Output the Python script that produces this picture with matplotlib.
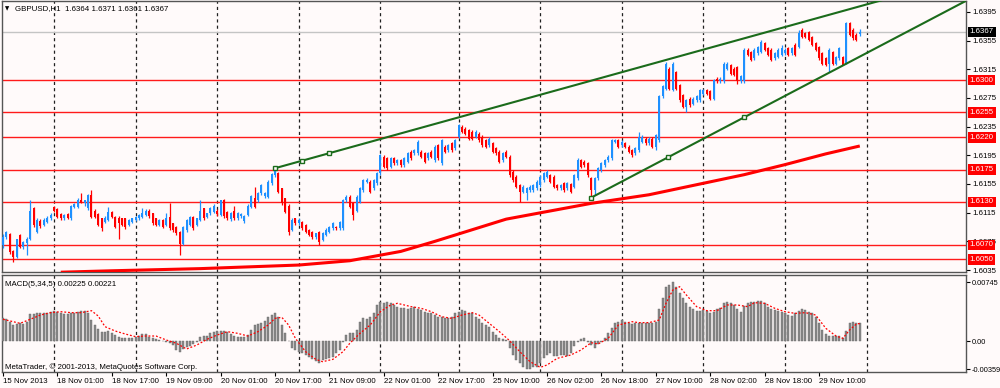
import numpy as np
import matplotlib
matplotlib.use('Agg')
import matplotlib.pyplot as plt
import matplotlib.transforms as mtransforms

plt.rcParams['font.family'] = ['Liberation Sans', 'DejaVu Sans']
plt.rcParams['font.size'] = 5.7

# GBPUSD H1, one bar per hour from 15 Nov 2013 09:00 to 29 Nov 2013 22:00
# prices in units of 0.0001
opens = [
    16070, 16081, 16085, 16062, 16053, 16084, 16067, 16073, 16078, 16122,
    16088, 16104, 16098, 16102, 16107, 16123, 16120, 16113, 16107, 16113,
    16107, 16123, 16123, 16132, 16128, 16121, 16139, 16118, 16113, 16107,
    16102, 16105, 16116, 16109, 16108, 16107, 16107, 16098, 16102, 16105,
    16107, 16109, 16112, 16118, 16114, 16107, 16098, 16105, 16098, 16109,
    16100, 16095, 16088, 16072, 16091, 16098, 16109, 16098, 16105, 16121,
    16109, 16114, 16116, 16118, 16112, 16132, 16116, 16106, 16118, 16107,
    16110, 16104, 16112, 16123, 16136, 16132, 16142, 16138, 16137, 16156,
    16167, 16170, 16149, 16135, 16125, 16091, 16107, 16100, 16102, 16098,
    16091, 16088, 16081, 16088, 16077, 16084, 16088, 16093, 16095, 16093,
    16093, 16132, 16137, 16128, 16118, 16130, 16146, 16158, 16158, 16149,
    16156, 16170, 16193, 16191, 16179, 16191, 16184, 16188, 16181, 16186,
    16200, 16198, 16198, 16200, 16198, 16191, 16200, 16188, 16209, 16184,
    16207, 16202, 16212, 16205, 16221, 16235, 16232, 16230, 16228, 16221,
    16225, 16221, 16216, 16209, 16212, 16205, 16200, 16188, 16200, 16193,
    16172, 16165, 16153, 16144, 16142, 16146, 16146, 16149, 16153, 16160,
    16165, 16167, 16165, 16153, 16149, 16156, 16149, 16155, 16151, 16163,
    16188, 16186, 16184, 16163, 16146, 16163, 16174, 16181, 16188, 16191,
    16214, 16216, 16209, 16212, 16207, 16202, 16198, 16202, 16214, 16218,
    16212, 16218, 16207, 16216, 16277, 16288, 16316, 16286, 16311, 16293,
    16279, 16263, 16274, 16267, 16272, 16272, 16281, 16286, 16284, 16274,
    16302, 16298, 16298, 16316, 16321, 16316, 16318, 16298, 16298, 16342,
    16339, 16330, 16337, 16339, 16351, 16344, 16342, 16330, 16332, 16335,
    16337, 16344, 16337, 16349, 16346, 16370, 16365, 16367, 16360, 16351,
    16346, 16337, 16330, 16323, 16339, 16323, 16330, 16332, 16323, 16379,
    16370, 16363, 16364]
closes = [
    16081, 16088, 16060, 16053, 16078, 16067, 16074, 16078, 16118, 16098,
    16105, 16096, 16105, 16108, 16112, 16117, 16109, 16107, 16112, 16107,
    16125, 16127, 16132, 16129, 16132, 16139, 16109, 16109, 16098, 16093,
    16108, 16116, 16109, 16095, 16100, 16098, 16095, 16105, 16107, 16109,
    16112, 16114, 16118, 16110, 16100, 16098, 16105, 16095, 16107, 16093,
    16091, 16086, 16072, 16095, 16105, 16109, 16093, 16107, 16118, 16107,
    16114, 16121, 16125, 16113, 16132, 16110, 16107, 16114, 16107, 16114,
    16113, 16110, 16125, 16138, 16123, 16142, 16153, 16142, 16158, 16169,
    16178, 16144, 16128, 16116, 16088, 16105, 16100, 16105, 16093, 16088,
    16084, 16081, 16086, 16074, 16086, 16091, 16095, 16100, 16093, 16102,
    16132, 16137, 16123, 16112, 16137, 16149, 16160, 16160, 16144, 16160,
    16170, 16195, 16179, 16177, 16191, 16184, 16188, 16181, 16191, 16198,
    16191, 16202, 16214, 16193, 16186, 16198, 16193, 16207, 16191, 16216,
    16200, 16209, 16202, 16216, 16237, 16228, 16225, 16218, 16218, 16228,
    16216, 16209, 16207, 16218, 16200, 16198, 16186, 16198, 16193, 16167,
    16160, 16151, 16144, 16151, 16149, 16151, 16153, 16158, 16165, 16170,
    16172, 16158, 16151, 16149, 16153, 16146, 16156, 16144, 16167, 16188,
    16179, 16181, 16167, 16146, 16163, 16177, 16184, 16188, 16193, 16216,
    16216, 16207, 16214, 16207, 16200, 16195, 16205, 16221, 16221, 16212,
    16218, 16207, 16223, 16277, 16291, 16323, 16288, 16323, 16288, 16272,
    16263, 16272, 16265, 16274, 16277, 16286, 16286, 16281, 16274, 16300,
    16298, 16302, 16323, 16323, 16309, 16307, 16298, 16305, 16342, 16335,
    16328, 16342, 16346, 16353, 16342, 16335, 16328, 16337, 16342, 16344,
    16342, 16335, 16344, 16335, 16365, 16360, 16360, 16356, 16349, 16342,
    16330, 16323, 16321, 16342, 16323, 16332, 16344, 16321, 16379, 16363,
    16358, 16356, 16367]
highs = [
    16085, 16090, 16087, 16063, 16079, 16085, 16076, 16081, 16133, 16123,
    16107, 16106, 16107, 16110, 16114, 16125, 16122, 16114, 16113, 16115,
    16126, 16129, 16135, 16142, 16133, 16141, 16146, 16120, 16114, 16108,
    16110, 16123, 16117, 16110, 16110, 16108, 16108, 16106, 16108, 16110,
    16113, 16121, 16120, 16120, 16115, 16108, 16106, 16106, 16114, 16128,
    16101, 16096, 16090, 16096, 16106, 16110, 16110, 16108, 16132, 16122,
    16115, 16123, 16127, 16120, 16133, 16134, 16118, 16116, 16125, 16116,
    16115, 16112, 16127, 16140, 16151, 16144, 16155, 16144, 16160, 16171,
    16179, 16172, 16150, 16136, 16127, 16107, 16108, 16107, 16104, 16099,
    16092, 16090, 16087, 16090, 16088, 16093, 16097, 16102, 16097, 16104,
    16134, 16139, 16139, 16130, 16139, 16151, 16162, 16163, 16160, 16162,
    16172, 16197, 16195, 16193, 16193, 16193, 16190, 16190, 16193, 16200,
    16202, 16204, 16216, 16202, 16200, 16200, 16202, 16209, 16211, 16218,
    16209, 16211, 16214, 16218, 16239, 16237, 16234, 16232, 16230, 16230,
    16227, 16223, 16218, 16220, 16214, 16207, 16202, 16200, 16202, 16195,
    16174, 16167, 16155, 16153, 16151, 16153, 16155, 16160, 16167, 16172,
    16174, 16169, 16167, 16155, 16155, 16158, 16158, 16157, 16169, 16191,
    16190, 16188, 16186, 16165, 16165, 16179, 16186, 16190, 16195, 16218,
    16218, 16218, 16216, 16214, 16209, 16204, 16207, 16228, 16223, 16220,
    16220, 16220, 16225, 16279, 16293, 16325, 16318, 16325, 16313, 16295,
    16281, 16274, 16276, 16276, 16279, 16288, 16288, 16288, 16286, 16302,
    16304, 16304, 16325, 16325, 16323, 16318, 16320, 16307, 16344, 16344,
    16341, 16344, 16348, 16356, 16353, 16346, 16344, 16339, 16344, 16349,
    16344, 16346, 16346, 16351, 16370, 16372, 16367, 16369, 16362, 16353,
    16348, 16339, 16332, 16344, 16341, 16334, 16346, 16334, 16381, 16381,
    16372, 16365, 16371]
lows = [
    16066, 16078, 16057, 16046, 16052, 16066, 16065, 16056, 16077, 16095,
    16086, 16094, 16096, 16100, 16105, 16116, 16107, 16105, 16105, 16106,
    16105, 16121, 16121, 16128, 16125, 16119, 16107, 16107, 16096, 16090,
    16100, 16104, 16107, 16093, 16079, 16096, 16092, 16096, 16100, 16103,
    16105, 16108, 16110, 16108, 16098, 16096, 16096, 16093, 16096, 16091,
    16088, 16084, 16056, 16070, 16088, 16096, 16091, 16096, 16104, 16105,
    16107, 16112, 16114, 16111, 16110, 16108, 16105, 16104, 16105, 16105,
    16108, 16100, 16110, 16121, 16121, 16130, 16140, 16136, 16135, 16154,
    16165, 16142, 16126, 16114, 16084, 16089, 16098, 16098, 16091, 16086,
    16082, 16079, 16079, 16070, 16075, 16082, 16086, 16091, 16091, 16091,
    16091, 16130, 16121, 16105, 16116, 16128, 16144, 16156, 16142, 16147,
    16154, 16168, 16177, 16175, 16177, 16182, 16182, 16179, 16179, 16184,
    16189, 16196, 16196, 16191, 16184, 16189, 16191, 16186, 16189, 16182,
    16198, 16200, 16200, 16203, 16219, 16226, 16223, 16216, 16216, 16219,
    16214, 16207, 16205, 16207, 16198, 16196, 16184, 16186, 16191, 16165,
    16158, 16149, 16130, 16142, 16132, 16144, 16144, 16147, 16151, 16158,
    16163, 16156, 16149, 16147, 16147, 16144, 16147, 16142, 16149, 16161,
    16177, 16179, 16165, 16136, 16139, 16161, 16172, 16179, 16186, 16189,
    16212, 16205, 16207, 16205, 16198, 16193, 16196, 16200, 16212, 16210,
    16210, 16205, 16202, 16214, 16275, 16286, 16286, 16284, 16286, 16270,
    16261, 16256, 16263, 16265, 16270, 16270, 16279, 16279, 16272, 16272,
    16296, 16296, 16296, 16314, 16307, 16305, 16295, 16296, 16296, 16333,
    16326, 16328, 16335, 16337, 16340, 16333, 16326, 16328, 16330, 16333,
    16335, 16333, 16335, 16333, 16344, 16358, 16358, 16354, 16347, 16340,
    16328, 16321, 16319, 16311, 16321, 16321, 16328, 16321, 16323, 16361,
    16356, 16354, 16361]

# moving average, read at a few bars
ma_idx = [17, 32, 58, 87, 102, 117, 127, 148, 173, 190, 205, 218, 230, 242, 252]
ma_vals = [1.6032, 1.6034, 1.6037, 1.6042, 1.6048, 1.6061, 1.6075, 1.6106,
           1.6128, 1.6140, 1.6155, 1.6168, 1.6182, 1.6197, 1.6208]

levels = [1.6300, 1.6255, 1.6220, 1.6175, 1.6130, 1.6070, 1.6050]
bid = 1.6367
upper_line = [(80, 1.6177), (96, 1.6198)]
lower_line = [(173, 1.6136), (218, 1.6248)]

# MACD(5,34,5) histogram, units of 0.00001
macd = [
    286, 274, 244, 202, 215, 223, 215, 244, 341, 341,
    358, 349, 358, 358, 366, 383, 370, 349, 341, 337,
    349, 358, 370, 375, 383, 349, 265, 202, 147, 118,
    118, 126, 105, 76, 55, 34, 34, 34, 42, 55,
    63, 88, 84, 55, 34, 21, 13, 0, -8, -29,
    -51, -114, -135, -105, -72, -63, -38, -8, 55, 63,
    67, 105, 118, 126, 131, 126, 118, 88, 63, 55,
    46, 55, 76, 139, 202, 211, 232, 257, 307, 328,
    358, 307, 202, 97, 4, -93, -114, -135, -156, -177,
    -198, -232, -248, -274, -240, -232, -219, -206, -156, -114,
    -8, 76, 97, 105, 139, 244, 286, 274, 307, 358,
    455, 497, 476, 488, 476, 455, 434, 413, 413, 404,
    413, 425, 404, 392, 370, 358, 349, 328, 307, 299,
    295, 286, 307, 349, 370, 392, 383, 358, 349, 307,
    274, 232, 202, 173, 118, 76, 34, 21, 13, -93,
    -177, -240, -282, -324, -352, -359, -333, -324, -282, -219,
    -177, -156, -189, -189, -177, -177, -189, -147, -63, -8,
    21, 34, -8, -51, -93, -38, -8, 34, 97, 160,
    223, 244, 265, 244, 232, 215, 223, 232, 232, 232,
    232, 223, 244, 400, 539, 686, 707, 745, 686, 602,
    539, 476, 425, 400, 379, 379, 392, 383, 349, 370,
    400, 413, 476, 488, 476, 455, 400, 370, 442, 484,
    488, 497, 509, 509, 484, 425, 400, 392, 383, 370,
    358, 328, 316, 349, 383, 400, 392, 370, 358, 307,
    232, 139, 84, 63, 63, 63, 63, 34, 131, 232,
    244, 232, 225]

# signal line, read at a few bars, units of 0.00001
sig_idx = [0, 3, 5, 8, 11, 14, 17, 20, 23, 26, 28, 30, 33, 36, 39, 42, 45, 48,
           51, 54, 57, 60, 63, 66, 69, 72, 75, 78, 80, 82, 84, 86, 89, 92, 94,
           97, 100, 102, 105, 108, 111, 114, 116, 120, 123, 126, 129, 132, 135,
           138, 140, 143, 146, 149, 152, 155, 158, 160, 163, 167, 170, 173, 175,
           178, 181, 185, 187, 190, 193, 195, 197, 199, 201, 204, 207, 210, 213,
           216, 219, 221, 224, 227, 230, 233, 236, 239, 242, 245, 247, 249, 251,
           252]
sig_vals = [274, 244, 223, 274, 328, 358, 370, 358, 358, 383, 316, 181, 126, 88,
            55, 63, 63, 13, -29, -101, -51, 21, 76, 118, 97, 63, 118, 202, 286,
            299, 202, 34, -135, -232, -261, -232, -135, -29, 97, 202, 370, 455,
            476, 434, 413, 370, 307, 286, 328, 358, 328, 223, 118, 4, -135, -261,
            -333, -303, -219, -177, -114, -21, -38, 34, 202, 244, 232, 232, 265,
            476, 644, 686, 581, 434, 383, 383, 455, 455, 434, 484, 476, 413, 370,
            349, 358, 328, 160, 63, 34, 139, 215, 221]

day_starts = [15, 39, 63, 87, 111, 134, 158, 182, 206, 230, 254]
tick_idx = [0, 16, 32, 48, 64, 80, 96, 112, 128, 144, 160, 176, 192, 208, 224, 240]
tick_labels = ['15 Nov 2013', '18 Nov 01:00', '18 Nov 17:00', '19 Nov 09:00',
               '20 Nov 01:00', '20 Nov 17:00', '21 Nov 09:00', '22 Nov 01:00',
               '22 Nov 17:00', '25 Nov 10:00', '26 Nov 02:00', '26 Nov 18:00',
               '27 Nov 10:00', '28 Nov 02:00', '28 Nov 18:00', '29 Nov 10:00']
price_ticks = [1.6035, 1.6075, 1.6115, 1.6155, 1.6195, 1.6235, 1.6275, 1.6315,
               1.6355, 1.6395]
macd_ticks = [0.00745, 0.0, -0.00359]
macd_tick_labels = ['0.00745', '0.00', '-0.00359']

BG = '#fffafa'
GREEN = '#1b6b1b'
W, H = 1000, 388


def box(x0, y0, x1, y1):
    # pixel box (y from top) -> figure fraction rect
    return [x0 / W, 1 - y1 / H, (x1 - x0) / W, (y1 - y0) / H]


fig = plt.figure(figsize=(W / 100, H / 100), dpi=100, facecolor=BG)
ax = fig.add_axes(box(2, 1, 966, 272), facecolor=BG)
axm = fig.add_axes(box(2, 275, 966, 372), facecolor=BG, sharex=ax)

o = np.array(opens) / 1e4
c = np.array(closes) / 1e4
h = np.maximum(np.array(highs) / 1e4, np.maximum(o, c))
l = np.minimum(np.array(lows) / 1e4, np.minimum(o, c))
x = np.arange(len(c))
col = np.where(c >= o, '#1e90ff', '#ff0000')

for lvl in levels:
    ax.axhline(lvl, color='#ff1a1a', lw=1.0, zorder=2)
ax.axhline(bid, color='#c4c4c4', lw=1.0, zorder=2)

ax.vlines(x, l, h, colors=col, lw=0.9, zorder=3)
ax.bar(x, np.maximum(np.abs(c - o), 0.00004), bottom=np.minimum(o, c),
       width=0.62, color=col, lw=0, zorder=4)

ax.plot(ma_idx, ma_vals, color='#ff0000', lw=2.2, solid_capstyle='butt', zorder=5)

x_end = 300
for (x1, y1), (x2, y2) in [upper_line, lower_line]:
    k = (y2 - y1) / (x2 - x1)
    ax.plot([x1, x_end], [y1, y1 + k * (x_end - x1)], color=GREEN, lw=1.5, zorder=6)
    ax.plot([x1, (x1 + x2) / 2, x2], [y1, (y1 + y2) / 2, y2], ls='none', marker='s',
            ms=3.3, mfc=BG, mec=GREEN, mew=1.0, zorder=7)

axm.bar(x, np.array(macd) / 1e5, width=0.62, color='#8a8a8a', edgecolor='#666666',
        lw=0.3, zorder=3)
axm.plot(sig_idx, np.array(sig_vals) / 1e5, color='#ff0000', lw=0.9,
         ls=(0, (1.5, 1.5)), zorder=4)

for a in (ax, axm):
    for d in day_starts:
        a.axvline(d, color='#202020', lw=0.9, ls=(0, (2.5, 2.5)), zorder=1)
    for s in a.spines.values():
        s.set_color('#555555')
        s.set_linewidth(1.0)
    a.tick_params(axis='y', left=False, labelleft=False, right=True, labelright=True,
                  length=3, width=0.8, pad=1.5, labelsize=5.7)

ax.set_xlim((2 - 3) / 3.4, (966 - 3) / 3.4)
ax.set_ylim(1.6300 - 192 / 7172, 1.6300 + 79 / 7172)
axm.set_ylim(-31 * 0.0001263, 66 * 0.0001263)

ax.set_yticks(price_ticks)
ax.set_yticklabels([f'{v:.4f}' for v in price_ticks])
ax.tick_params(axis='x', bottom=False, labelbottom=False)
axm.set_yticks(macd_ticks)
axm.set_yticklabels(macd_tick_labels)
axm.tick_params(axis='y', labelsize=5.3, pad=1.0)
axm.set_xticks(tick_idx)
axm.set_xticklabels(tick_labels, ha='left')
axm.tick_params(axis='x', length=3, width=0.8, pad=1.5, labelsize=5.7)

trans = mtransforms.blended_transform_factory(ax.transAxes, ax.transData)
for lvl in levels:
    ax.text(1.004, lvl, f'{lvl:.4f}', transform=trans, ha='left', va='center',
            color='white', fontsize=5.7, clip_on=False, zorder=10,
            bbox=dict(boxstyle='square,pad=0.22', fc='#ff0000', ec='none'))
ax.text(1.004, bid, f'{bid:.4f}', transform=trans, ha='left', va='center',
        color='white', fontsize=5.7, clip_on=False, zorder=10,
        bbox=dict(boxstyle='square,pad=0.22', fc='#000000', ec='none'))

fig.text(5 / W, 1 - 9 / H, '▼', fontsize=4, va='center', family=['DejaVu Sans'])
fig.text(15 / W, 1 - 9 / H, 'GBPUSD,H1  1.6364 1.6371 1.6361 1.6367', va='center')
fig.text(5 / W, 1 - 284 / H, 'MACD(5,34,5) 0.00225 0.00221', va='center')
fig.text(5 / W, 1 - 367 / H, 'MetaTrader, © 2001-2013, MetaQuotes Software Corp.',
         va='center')

fig.savefig('out.png', dpi=100, facecolor=BG)
